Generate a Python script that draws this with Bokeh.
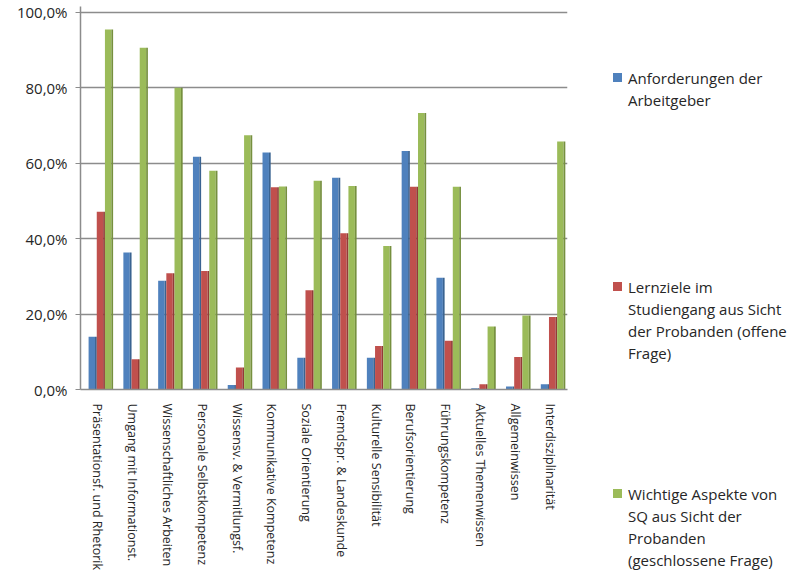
from bokeh.plotting import figure
from bokeh.models import ColumnDataSource, FactorRange, FixedTicker, Range1d, Div
from bokeh.transform import dodge
from bokeh.layouts import row
from bokeh.embed import file_html
from bokeh.resources import INLINE

categories = [
    "Präsentationsf. und Rhetorik",
    "Umgang mit Informationst.",
    "Wissenschaftliches Arbeiten",
    "Personale Selbstkompetenz",
    "Wissensv. & Vermitlungsf.",
    "Kommunikative Kompetenz",
    "Soziale Orientierung",
    "Fremdspr. & Landeskunde",
    "Kulturelle Sensibilität",
    "Berufsorientierung",
    "Führungskompetenz",
    "Aktuelles Themenwissen",
    "Allgemeinwissen",
    "Interdisziplinarität",
]
anforderungen = [14.0, 36.3, 28.8, 61.7, 1.2, 62.8, 8.4, 56.1, 8.4, 63.2, 29.6, 0.3, 0.8, 1.4]
lernziele = [47.1, 8.0, 30.8, 31.4, 5.8, 53.6, 26.3, 41.4, 11.5, 53.7, 12.9, 1.4, 8.6, 19.2]
wichtige = [95.4, 90.6, 80.0, 58.0, 67.4, 53.8, 55.3, 53.9, 38.0, 73.3, 53.7, 16.7, 19.6, 65.7]

series_names = [
    "Anforderungen der Arbeitgeber",
    "Lernziele im Studiengang aus Sicht der Probanden (offene Frage)",
    "Wichtige Aspekte von SQ aus Sicht der Probanden (geschlossene Frage)",
]
legend_lines = [
    ["Anforderungen der", "Arbeitgeber"],
    ["Lernziele im", "Studiengang aus Sicht", "der Probanden (offene", "Frage)"],
    ["Wichtige Aspekte von", "SQ aus Sicht der", "Probanden", "(geschlossene Frage)"],
]
y_ticks = [0, 20, 40, 60, 80, 100]
y_tick_labels = ["0,0%", "20,0%", "40,0%", "60,0%", "80,0%", "100,0%"]

colors = ["#4F81BD", "#C0504D", "#9BBB59"]
side_colors = ["#3A6391", "#933A37", "#76903F"]
offsets = [-0.15, 0.085, 0.32]
FONT = "Open Sans"

src = ColumnDataSource(dict(cat=categories, s0=anforderungen, s1=lernziele, s2=wichtige))

p = figure(
    x_range=FactorRange(factors=categories, range_padding=0),
    y_range=Range1d(0, 101.5),
    width=580, height=573,
    output_backend="svg", toolbar_location=None,
    min_border_left=80, min_border_right=13, min_border_top=6, min_border_bottom=0,
)
p.outline_line_color = None
p.background_fill_color = "white"
p.border_fill_color = "white"

for i, key in enumerate(["s0", "s1", "s2"]):
    off = offsets[i]
    p.vbar(x=dodge("cat", off - 0.025, range=p.x_range), top=key, bottom=0, width=0.185,
           source=src, fill_color=colors[i], line_color=None)
    p.vbar(x=dodge("cat", off + 0.0925, range=p.x_range), top=key, bottom=0, width=0.05,
           source=src, fill_color=side_colors[i], line_color=None)

p.xgrid.visible = False
p.ygrid.grid_line_color = "#8c8c8c"
p.ygrid.grid_line_width = 1.5
p.yaxis.ticker = FixedTicker(ticks=y_ticks)
p.yaxis.major_label_overrides = {t: l for t, l in zip(y_ticks, y_tick_labels)}
p.yaxis.axis_line_color = "#8c8c8c"
p.yaxis.axis_line_width = 1.5
p.yaxis.major_tick_line_color = "#8c8c8c"
p.yaxis.major_tick_out = 5
p.yaxis.major_tick_in = 0
p.yaxis.minor_tick_line_color = None
p.yaxis.major_label_standoff = 8
p.yaxis.major_label_text_font = FONT
p.yaxis.major_label_text_font_size = "15px"
p.yaxis.major_label_text_color = "#262626"

p.xaxis.axis_line_color = "#8c8c8c"
p.xaxis.axis_line_width = 1.5
p.xaxis.major_tick_line_color = None
p.xaxis.major_label_orientation = "vertical"
p.xaxis.major_label_standoff = 8
p.xaxis.major_label_text_font = FONT
p.xaxis.major_label_text_font_size = "12.5px"
p.xaxis.major_label_text_color = "#262626"

# ---- legend as an HTML panel to the right of the chart ----
entry_centers = [78, 287, 494]
line_h = 22
parts = []
for i, lines in enumerate(legend_lines):
    c = entry_centers[i]
    parts.append(
        f'<div style="position:absolute;left:33px;top:{c - 5}px;width:9px;height:9px;'
        f'background:{colors[i]};"></div>'
    )
    parts.append(
        f'<div style="position:absolute;left:48px;top:{c - line_h // 2}px;'
        f'white-space:nowrap;">' + "<br>".join(lines) + "</div>"
    )
html = (
    f'<div style="position:relative;width:223px;height:573px;font-family:\'{FONT}\';'
    f'font-size:15px;line-height:{line_h}px;color:#262626;">' + "".join(parts) + "</div>"
)
legend_div = Div(text=html, width=223, height=573, margin=(0, 0, 0, 0))

layout = row(p, legend_div)
open("out.html", "w").write(file_html(layout, INLINE))
